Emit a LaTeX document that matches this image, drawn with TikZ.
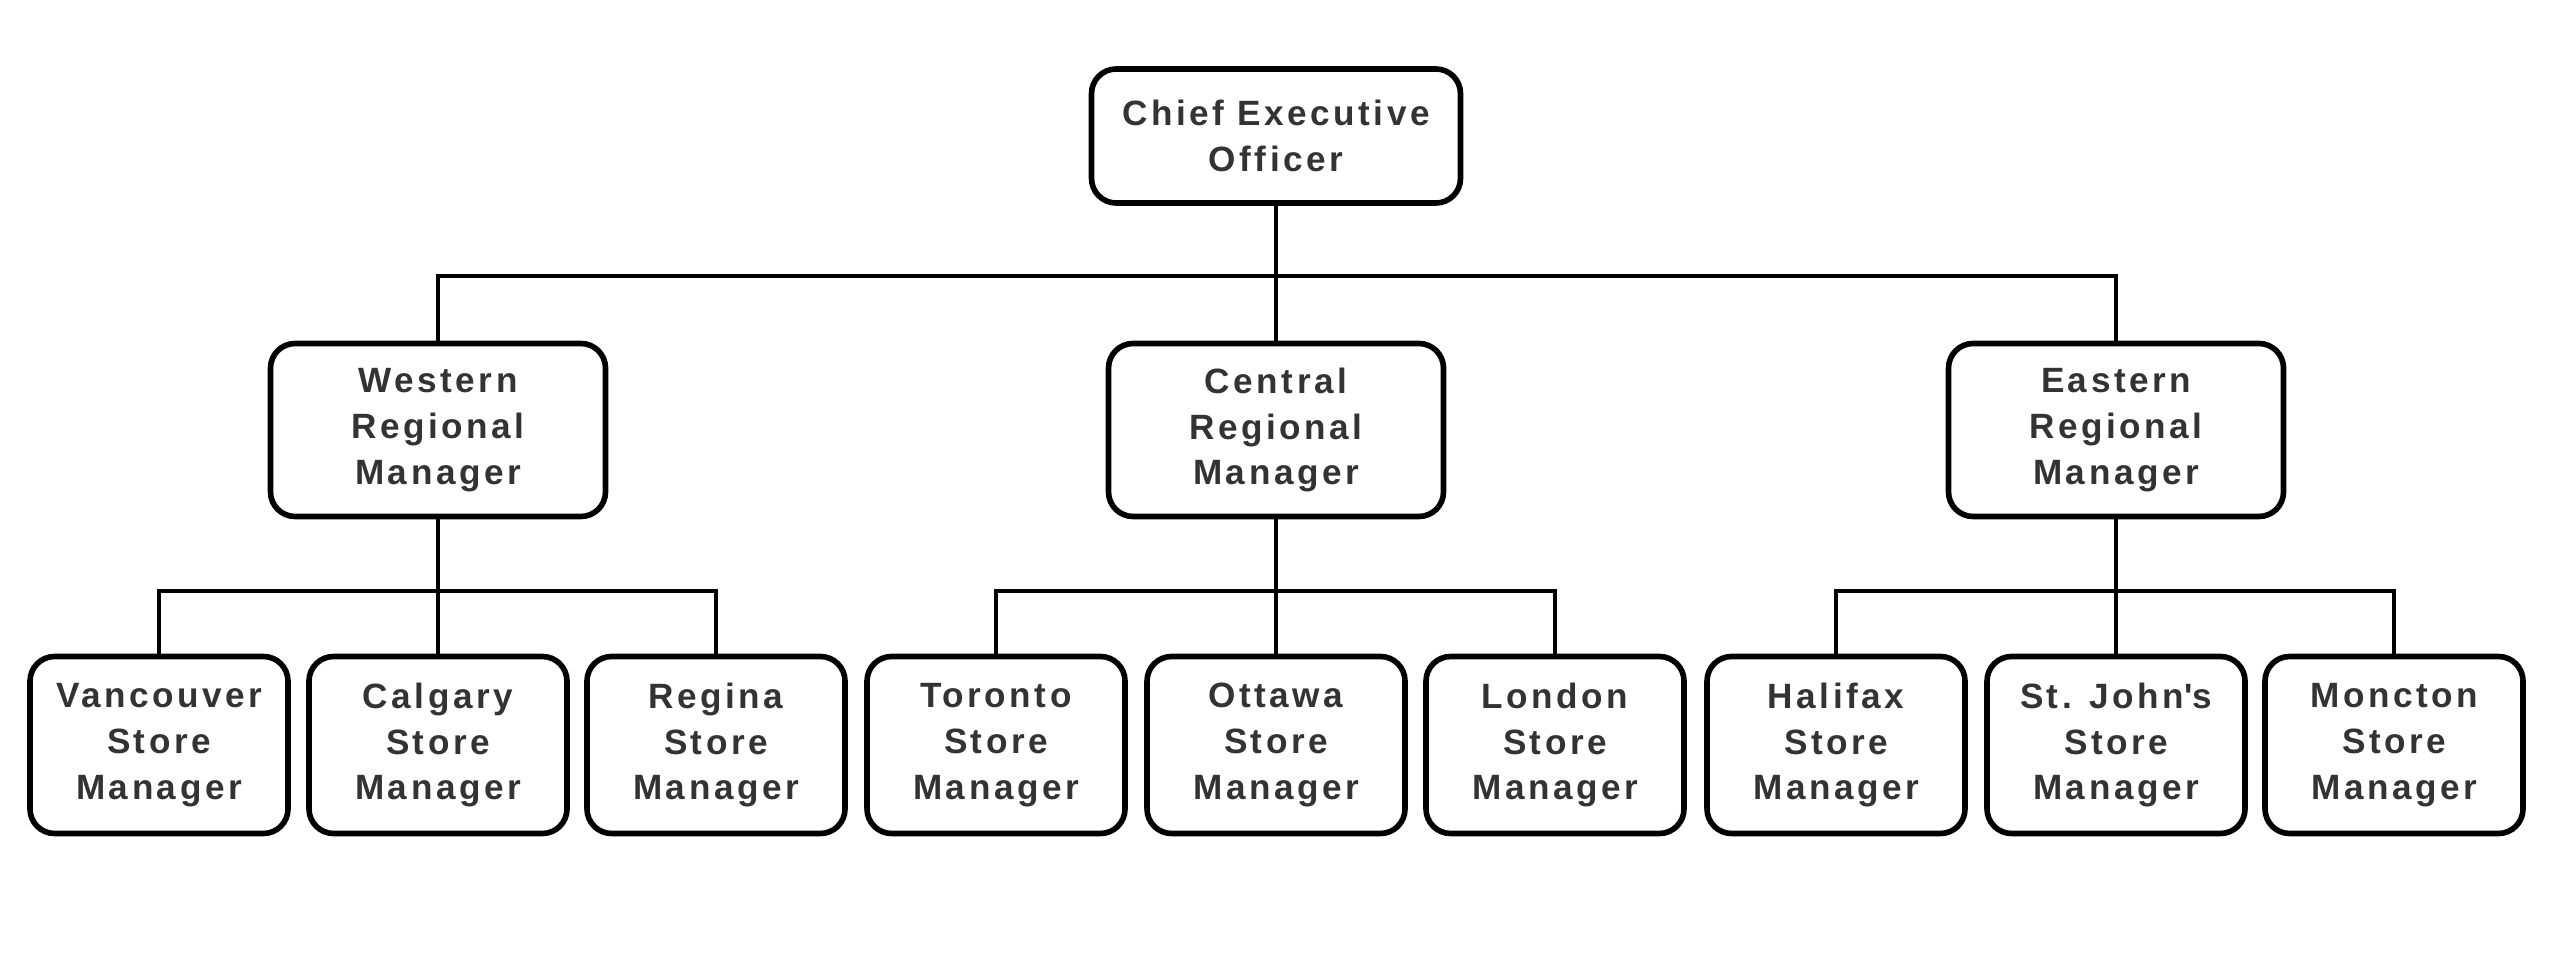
\documentclass[tikz,border=0pt]{standalone}
\usepackage{fontspec}
\setmainfont[LetterSpace=10]{Liberation Sans}
\usepackage{tikz}
\usetikzlibrary{positioning}
\newcommand{\sq}{\XeTeXglyph\XeTeXcharglyph"27\relax}

\begin{document}
\begin{tikzpicture}[
  font=\fontsize{10}{13}\selectfont\bfseries,
  obox/.style={draw, line width=1.6pt, rounded corners=7pt, align=center,
               fill=white, text=black!80, inner sep=0pt},
  cbox/.style={obox, minimum width=3.69cm, minimum height=1.34cm},
  rbox/.style={obox, minimum width=3.35cm, minimum height=1.73cm},
  sbox/.style={obox, minimum width=2.58cm, minimum height=1.77cm},
  link/.style={line width=1.1pt},
]
\useasboundingbox (0,0) rectangle (25.64,9.64);

\node[cbox] (ceo) at (12.76, 8.28) {Chief Executive\\Officer};

\node[rbox] (west) at ( 4.38, 5.34) {Western\\Regional\\Manager};
\node[rbox] (cent) at (12.76, 5.34) {Central\\Regional\\Manager};
\node[rbox] (east) at (21.16, 5.34) {Eastern\\Regional\\Manager};

\node[sbox] (van) at ( 1.59, 2.19) {Vancouver\\Store\\Manager};
\node[sbox] (cal) at ( 4.38, 2.19) {Calgary\\Store\\Manager};
\node[sbox] (reg) at ( 7.16, 2.19) {Regina\\Store\\Manager};
\node[sbox] (tor) at ( 9.96, 2.19) {Toronto\\Store\\Manager};
\node[sbox] (ott) at (12.76, 2.19) {Ottawa\\Store\\Manager};
\node[sbox] (lon) at (15.55, 2.19) {London\\Store\\Manager};
\node[sbox] (hal) at (18.36, 2.19) {Halifax\\Store\\Manager};
\node[sbox] (stj) at (21.16, 2.19) {St. John\sq{}s\\Store\\Manager};
\node[sbox] (mon) at (23.94, 2.19) {Moncton\\Store\\Manager};

% CEO to regions
\foreach \r in {west,cent,east}
  \draw[link] (ceo.south) -- ++(0,-0.70) -| (\r.north);

% regions to stores
\foreach \r/\s in {west/van,west/cal,west/reg,
                   cent/tor,cent/ott,cent/lon,
                   east/hal,east/stj,east/mon}
  \draw[link] (\r.south) -- ++(0,-0.72) -| (\s.north);
\end{tikzpicture}
\end{document}
